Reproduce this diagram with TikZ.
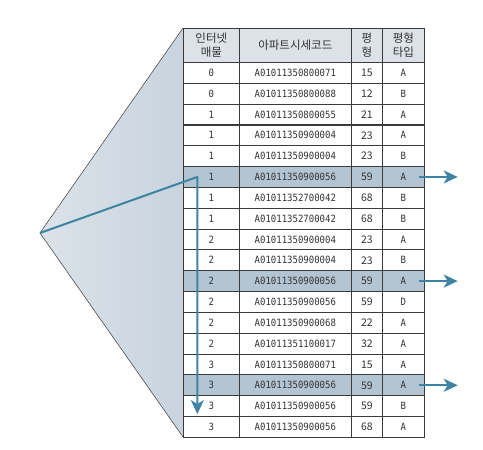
\documentclass[tikz,border=0pt]{standalone}
\usepackage{fontspec}
\newfontfamily\krfont{Noto Sans CJK KR}
\newfontfamily\codefont[FakeStretch=0.9]{DejaVu Sans Mono}
\definecolor{tbLine}{HTML}{3A3A3A}
\definecolor{tbText}{HTML}{333333}
\definecolor{tbHead}{HTML}{DCE2E8}
\definecolor{tbRow}{HTML}{B3C5D3}
\definecolor{tbFlow}{HTML}{3F83A3}
\definecolor{tbWedgeL}{HTML}{DCE3E9}
\definecolor{tbWedgeR}{HTML}{C8D3DD}
\usetikzlibrary{arrows.meta}

\tikzset{
  cell/.style={draw=tbLine, line width=0.7pt, rectangle, inner sep=0pt,
    anchor=north west, minimum height=20.83pt, text=tbText,
    font=\codefont\fontsize{10}{11}\selectfont},
  head/.style={cell, fill=tbHead, minimum height=34pt, align=center,
    font=\krfont\fontsize{11.5}{13.5}\selectfont},
  flow/.style={draw=tbFlow, line width=2pt,
    -{Stealth[length=14pt,width=13pt,inset=4pt]}},
}

\begin{document}
\begin{tikzpicture}[x=1pt,y=-1pt]
  \useasboundingbox (0,0) rectangle (483,450);

  % Wedge
  \coordinate (apex) at (40,233);
  \shade[left color=tbWedgeL, right color=tbWedgeR] (apex) -- (183,28) -- (183,437) -- cycle;
  \draw[tbLine, line width=0.5pt] (183,28) -- (apex) -- (183,437);

  % Header
  \node[head, minimum width=56pt] (h1) at (183,28) {인터넷\\매물};
  \node[head, minimum width=112pt] (h2) at (239,28) {아파트시세코드};
  \node[head, minimum width=31pt] (h3) at (351,28) {평\\형};
  \node[head, minimum width=42pt] (h4) at (382,28) {평형\\타입};

  % Rows
  \foreach \n/\code/\py/\ty/\bg [count=\i] in {
      0/A01011350800071/15/A/white, 0/A01011350800088/12/B/white,
      1/A01011350800055/21/A/white, 1/A01011350900004/23/A/white,
      1/A01011350900004/23/B/white, 1/A01011350900056/59/A/tbRow,
      1/A01011352700042/68/B/white, 1/A01011352700042/68/B/white,
      2/A01011350900004/23/A/white, 2/A01011350900004/23/B/white,
      2/A01011350900056/59/A/tbRow, 2/A01011350900056/59/D/white,
      2/A01011350900068/22/A/white, 2/A01011351100017/32/A/white,
      3/A01011350800071/15/A/white, 3/A01011350900056/59/A/tbRow,
      3/A01011350900056/59/B/white, 3/A01011350900056/68/A/white} {
    \pgfmathsetmacro\y{62+(\i-1)*20.833}
    \node[cell, fill=\bg, minimum width=56pt] (n\i) at (183,\y) {\n};
    \node[cell, fill=\bg, minimum width=112pt] (k\i) at (239,\y) {\code};
    \node[cell, fill=\bg, minimum width=31pt,
      font=\krfont\fontsize{10.5}{11}\selectfont] (p\i) at (351,\y) {\py};
    \node[cell, fill=\bg, minimum width=42pt] (t\i) at (382,\y) {\ty};
  }

  % Arrows
  \coordinate (bend) at ([xshift=-14pt]n6.center);
  \coordinate (last) at ([xshift=-14pt,yshift=-8pt]n17.center);
  \draw[flow, line join=round] (apex) -- (bend) -- (last);
  \foreach \r in {6,11,16} {
    \coordinate (out\r) at ([xshift=33pt]t\r.east);
    \draw[flow] ([xshift=-6pt]t\r.east) -- (out\r);
  }
\end{tikzpicture}
\end{document}
